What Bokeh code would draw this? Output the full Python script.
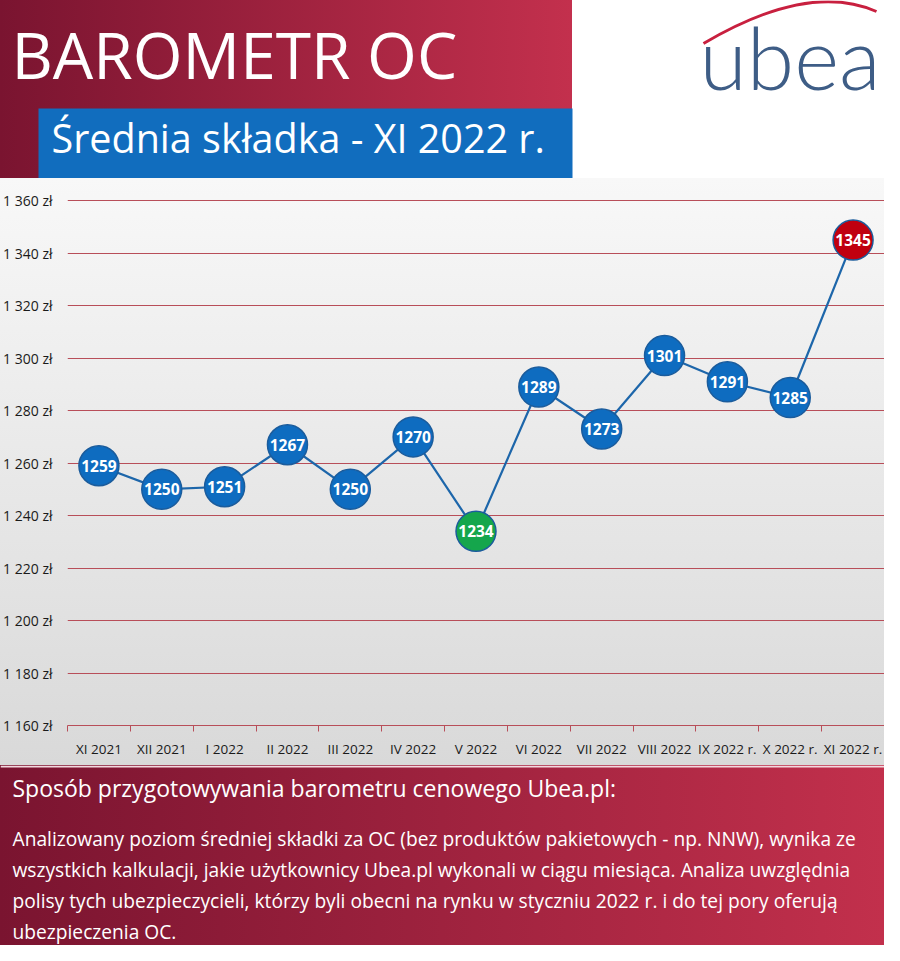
from bokeh.plotting import figure
from bokeh.layouts import column
from bokeh.models import Range1d, FixedTicker, ColumnDataSource
from bokeh.core.properties import value
from bokeh.embed import file_html
from bokeh.resources import INLINE

# ---------------- data ----------------
categories = ["XI 2021", "XII 2021", "I 2022", "II 2022", "III 2022", "IV 2022",
              "V 2022", "VI 2022", "VII 2022", "VIII 2022", "IX 2022 r.",
              "X 2022 r.", "XI 2022 r."]
premiums = [1259, 1250, 1251, 1267, 1250, 1270, 1234, 1289, 1273, 1301, 1291, 1285, 1345]
y_ticks = [1160, 1180, 1200, 1220, 1240, 1260, 1280, 1300, 1320, 1340, 1360]

title_text = "BAROMETR OC"
subtitle_text = "Średnia składka - XI 2022 r."
logo_text = "ubea"
method_title = "Sposób przygotowywania barometru cenowego Ubea.pl:"
method_lines = [
    "Analizowany poziom średniej składki za OC (bez produktów pakietowych - np. NNW), wynika ze",
    "wszystkich kalkulacji, jakie użytkownicy Ubea.pl wykonali w ciągu miesiąca. Analiza uwzględnia",
    "polisy tych ubezpieczycieli, którzy byli obecni na rynku w styczniu 2022 r. i do tej pory oferują",
    "ubezpieczenia OC.",
]

W = 884
FONT = value("Open Sans")
RED_GRID = "#b84e59"

def deco_fig(height, y0, y1, bg):
    f = figure(width=W, height=height, x_range=Range1d(0, W), y_range=Range1d(y1, y0),
               toolbar_location=None, output_backend="svg", x_axis_location=None,
               y_axis_location=None, min_border=0, outline_line_color=None,
               background_fill_color=None, border_fill_color=None, frame_align=False,
               styles={"background": bg})
    f.grid.visible = False
    return f

# ---------------- header ----------------
header = deco_fig(178, 0, 178,
                  "linear-gradient(to right, #7a1430 0%, #c3304d 64.7%, #ffffff 64.7%, #ffffff 100%)")
header.quad(left=38, right=572, top=108, bottom=178, fill_color="#116dbe", line_color=None)
header.text(x=[11], y=[53.5], text=[title_text], text_font=FONT, text_font_size=value("64px"),
            text_color="white", text_baseline="alphabetic", text_align="left")
header.text(x=[51], y=[137], text=[subtitle_text], text_font=FONT, text_font_size=value("39.5px"),
            text_color="white", text_baseline="alphabetic", text_align="left")
header.quadratic(x0=[703], y0=[43], x1=[876], y1=[11], cx=[808], cy=[-19],
                 line_color="#c8203f", line_width=3)
header.text(x=[699], y=[56], text=[logo_text], text_font=value("Lato Light"),
            text_font_size=value("86px"), text_color="#3e5d86", text_baseline="alphabetic",
            text_align="left")

# ---------------- chart ----------------
n = len(categories)
idx_min = premiums.index(min(premiums))
fills = []
for i in range(n):
    if i == n - 1:
        fills.append("#c0000f")
    elif i == idx_min:
        fills.append("#15a64c")
    else:
        fills.append("#0e6cc0")

src = ColumnDataSource(dict(x=list(range(n)), y=premiums,
                            label=[str(v) for v in premiums], fill=fills))

chart = figure(width=W, height=587, x_range=Range1d(-0.5, n - 0.5), y_range=Range1d(1160, 1362),
               toolbar_location=None, output_backend="svg", frame_align=False,
               min_border_left=66, min_border_right=0, min_border_top=17, min_border_bottom=40,
               outline_line_color=None, background_fill_color=None, border_fill_color=None,
               styles={"background": "linear-gradient(to bottom, #f8f8f8, #d9d9d9)"})

xa = chart.xaxis[0]
xa.ticker = FixedTicker(ticks=list(range(n)), minor_ticks=[i - 0.5 for i in range(n + 1)])
xa.major_label_overrides = {i: c for i, c in enumerate(categories)}
xa.major_tick_line_color = None
xa.major_tick_out = 0
xa.major_tick_in = 0
xa.minor_tick_line_color = RED_GRID
xa.minor_tick_out = 6
xa.minor_tick_in = 0
xa.axis_line_color = RED_GRID
xa.major_label_standoff = 8
xa.major_label_text_font = "Open Sans"
xa.major_label_text_font_size = "13.5px"
xa.major_label_text_color = "#1a1a1a"

ya = chart.yaxis[0]
ya.ticker = FixedTicker(ticks=y_ticks)
ya.major_label_overrides = {t: f"{t // 1000} {t % 1000:03d} zł" for t in y_ticks}
ya.axis_line_color = None
ya.major_tick_line_color = None
ya.minor_tick_line_color = None
ya.major_tick_out = 0
ya.major_tick_in = 0
ya.major_label_standoff = 15
ya.major_label_text_font = "Open Sans"
ya.major_label_text_font_size = "14px"
ya.major_label_text_color = "#1a1a1a"

chart.xgrid.visible = False
chart.ygrid.grid_line_color = RED_GRID
chart.ygrid.grid_line_width = 1

chart.line("x", "y", source=src, line_color="#1d66aa", line_width=2.2)
chart.scatter("x", "y", source=src, size=40, fill_color="fill", line_color="#1b5c9c", line_width=1.5)
chart.text("x", "y", text="label", source=src, text_font=FONT, text_font_style="bold",
           text_font_size=value("15.5px"), text_color="white", text_align="center",
           text_baseline="middle")

# ---------------- footer ----------------
footer = deco_fig(180, 765, 945, "linear-gradient(to right, #7a1430 0%, #c2304c 100%)")
footer.quad(left=0, right=W, top=765, bottom=767, fill_color="#f3d8de", line_color=None)
footer.text(x=[12], y=[787], text=[method_title], text_font=FONT, text_font_size=value("23px"),
            text_color="white", text_baseline="middle", text_align="left")
line_y = [838, 869, 900, 931]
footer.text(x=[12] * len(method_lines), y=line_y, text=method_lines, text_font=FONT,
            text_font_size=value("19.2px"), text_color="white", text_baseline="middle",
            text_align="left")

layout = column(header, chart, footer, spacing=0)
open("out.html", "w").write(file_html(layout, INLINE))
